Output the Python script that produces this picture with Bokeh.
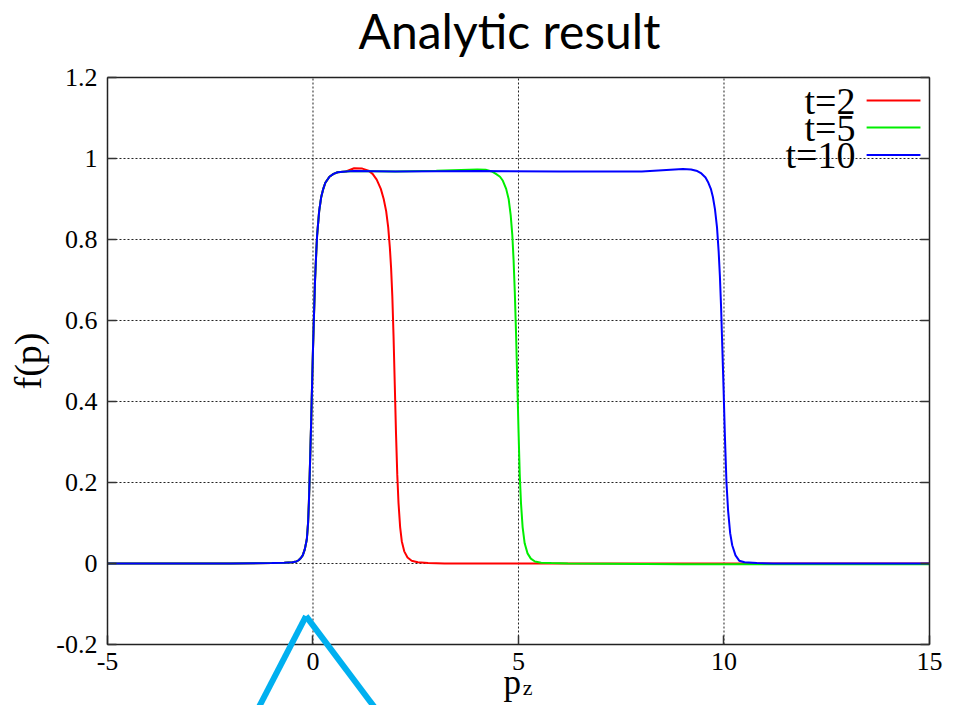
from bokeh.plotting import figure
from bokeh.models import Range1d, FixedTicker, LinearAxis, Label, Arrow
from bokeh.embed import file_html
from bokeh.resources import INLINE

# ---------------- data ----------------
x_ticks = [-5, 0, 5, 10, 15]
x_tick_labels = ["-5", "0", "5", "10", "15"]
y_ticks = [-0.2, 0, 0.2, 0.4, 0.6, 0.8, 1.0, 1.2]
y_tick_labels = ["-0.2", "0", "0.2", "0.4", "0.6", "0.8", "1", "1.2"]

series_names = ["t=2", "t=5", "t=10"]

# shared rising edge (all three curves coincide there)
x_rise = [-5, -2, -1, -0.7, -0.5, -0.4, -0.35, -0.3, -0.25, -0.2, -0.15, -0.12, -0.1,
          -0.08, -0.05, -0.02, 0, 0.02, 0.05, 0.08, 0.1, 0.15, 0.2, 0.25, 0.3, 0.4,
          0.5, 0.6, 0.8]
y_rise = [0, 0, 0.001, 0.002, 0.003, 0.005, 0.008, 0.013, 0.02, 0.035, 0.06, 0.1, 0.15,
          0.22, 0.33, 0.45, 0.53, 0.6, 0.7, 0.77, 0.81, 0.87, 0.905, 0.925, 0.94, 0.955,
          0.962, 0.966, 0.968]

x_t2 = x_rise + [1.0, 1.2, 1.35, 1.45, 1.55, 1.65, 1.72, 1.78, 1.83, 1.87, 1.9, 1.93,
                 1.96, 1.99, 2.02, 2.05, 2.08, 2.12, 2.16, 2.22, 2.3, 2.4, 2.55, 2.8,
                 3.2, 6.0, 10.0, 15]
y_t2 = y_rise + [0.976, 0.975, 0.97, 0.962, 0.948, 0.925, 0.9, 0.87, 0.83, 0.78, 0.73,
                 0.66, 0.56, 0.44, 0.32, 0.22, 0.15, 0.09, 0.055, 0.03, 0.015, 0.007,
                 0.003, 0.001, 0.0, 0.0, 0.0, 0.0]

x_t5 = x_rise + [1.0, 2.0, 3.0, 4.0, 4.2, 4.35, 4.45, 4.55, 4.62, 4.7, 4.76, 4.81, 4.85,
                 4.88, 4.91, 4.94, 4.97, 5.0, 5.03, 5.06, 5.1, 5.15, 5.22, 5.3, 5.4,
                 5.55, 5.8, 6.2, 9.0, 12.0, 15]
y_t5 = y_rise + [0.969, 0.968, 0.97, 0.973, 0.972, 0.968, 0.962, 0.955, 0.945, 0.925,
                 0.9, 0.86, 0.81, 0.75, 0.67, 0.57, 0.45, 0.33, 0.22, 0.15, 0.09, 0.05,
                 0.025, 0.012, 0.005, 0.002, 0.001, 0.0, -0.002, -0.002, -0.002]

x_t10 = x_rise + [1.0, 2.0, 4.0, 6.0, 8.0, 9.0, 9.2, 9.35, 9.45, 9.55, 9.62, 9.68, 9.73,
                  9.78, 9.83, 9.87, 9.9, 9.93, 9.96, 9.99, 10.02, 10.06, 10.1, 10.15,
                  10.2, 10.28, 10.37, 10.5, 10.8, 11.2, 13.0, 15]
y_t10 = y_rise + [0.969, 0.968, 0.969, 0.968, 0.968, 0.974, 0.973, 0.969, 0.963, 0.953,
                  0.94, 0.925, 0.905, 0.875, 0.83, 0.77, 0.71, 0.63, 0.53, 0.43, 0.32,
                  0.2, 0.13, 0.075, 0.045, 0.02, 0.007, 0.003, 0.001, 0.0, 0.0, 0.0]

# cyan callout wedge drawn over the chart in the reference (data coordinates)
callout_x = [-1.41, -0.17, 1.63]
callout_y = [-0.373, -0.13, -0.373]

# ---------------- styles / layout ----------------
colors = ["#ff0000", "#00ee00", "#0000ff"]
SERIF = "Liberation Serif"
X0, X1, Y0, Y1 = -5, 15, -0.2, 1.2
# the drawing area covers the whole canvas; the boxed plot is X0..X1 x Y0..Y1
VIEW_X = (-7.6034, 15.3893)
VIEW_Y = (-0.3506, 1.3901)

p = figure(frame_width=945, frame_height=705,
           x_range=Range1d(*VIEW_X), y_range=Range1d(*VIEW_Y),
           output_backend="svg", toolbar_location=None,
           min_border=0, min_border_left=0, min_border_right=0,
           min_border_top=0, min_border_bottom=0,
           background_fill_color="white", border_fill_color="white")
p.outline_line_color = None
p.xgrid.visible = False
p.ygrid.visible = False

AX_COL = "#222222"
GRID = dict(line_color="#222222", line_dash="2 2", line_width=1)

# dotted grid, limited to the boxed plot
p.segment(x0=x_ticks, y0=[Y0] * len(x_ticks), x1=x_ticks, y1=[Y1] * len(x_ticks), **GRID)
p.segment(x0=[X0] * len(y_ticks), y0=y_ticks, x1=[X1] * len(y_ticks), y1=y_ticks, **GRID)


def style_axis(ax):
    ax.axis_line_color = AX_COL
    ax.axis_line_width = 1.5
    ax.major_tick_in = 9
    ax.major_tick_out = 0
    ax.major_tick_line_color = "#333333"
    ax.major_tick_line_width = 1.5
    ax.minor_tick_line_color = None


xa = p.xaxis[0]
style_axis(xa)
xa.fixed_location = Y0
xa.bounds = (X0, X1)
xa.ticker = FixedTicker(ticks=x_ticks)
xa.major_label_overrides = dict(zip(x_ticks, x_tick_labels))
xa.major_label_standoff = 8
xa.major_label_text_font = SERIF
xa.major_label_text_font_size = "26px"
xa.major_label_text_color = "black"

ya = p.yaxis[0]
style_axis(ya)
ya.fixed_location = X0
ya.bounds = (Y0, Y1)
ya.ticker = FixedTicker(ticks=y_ticks)
ya.major_label_overrides = dict(zip(y_ticks, y_tick_labels))
ya.major_label_standoff = 10
ya.major_label_text_font = SERIF
ya.major_label_text_font_size = "26px"
ya.major_label_text_color = "black"
ya.axis_label = "f(p)"
ya.axis_label_text_font = SERIF
ya.axis_label_text_font_size = "38px"
ya.axis_label_text_font_style = "normal"
ya.axis_label_text_color = "black"
ya.axis_label_standoff = 4

right = LinearAxis(fixed_location=X1, bounds=(Y0, Y1), ticker=FixedTicker(ticks=y_ticks),
                   major_label_text_color=None, major_label_text_font_size="10px")
style_axis(right)
p.add_layout(right, "right")

top = LinearAxis(fixed_location=Y1, bounds=(X0, X1), ticker=FixedTicker(ticks=x_ticks),
                 major_label_text_color=None, major_label_text_font_size="10px")
style_axis(top)
top.major_tick_in = 0
p.add_layout(top, "above")

for xv, yv, c in zip([x_t2, x_t5, x_t10], [y_t2, y_t5, y_t10], colors):
    p.line(xv, yv, line_color=c, line_width=2)

# title
p.add_layout(Label(x=4.78, y=1.316, text="Analytic result", text_align="center",
                   text_baseline="alphabetic", text_font="Lato",
                   text_font_size="48px", text_color="black"))

# x-axis label p_z
p.add_layout(Label(x=4.85, y=-0.294, text="p", text_align="center",
                   text_baseline="alphabetic", text_font=SERIF,
                   text_font_size="35px", text_color="black"))
p.add_layout(Label(x=5.22, y=-0.305, text="z", text_align="center",
                   text_baseline="alphabetic", text_font=SERIF,
                   text_font_size="22px", text_color="black"))

# legend (text to the left of the key line, as in the reference)
leg_text_x = 13.2
leg_line_x0, leg_line_x1 = 13.47, 14.78
leg_rows = [1.143, 1.0765, 1.0085]
for name, c, ry in zip(series_names, colors, leg_rows):
    p.add_layout(Label(x=leg_text_x, y=ry, text=name, text_align="right",
                       text_baseline="middle", text_font=SERIF,
                       text_font_size="38px", text_color="black"))
    p.add_layout(Arrow(end=None, x_start=leg_line_x0, y_start=ry,
                       x_end=leg_line_x1, y_end=ry, line_color=c, line_width=2))

# cyan callout wedge
for i in range(2):
    p.add_layout(Arrow(end=None, x_start=callout_x[i], y_start=callout_y[i],
                       x_end=callout_x[i + 1], y_end=callout_y[i + 1],
                       line_color="#00b0f0", line_width=6))

open("out.html", "w").write(file_html(p, INLINE))
